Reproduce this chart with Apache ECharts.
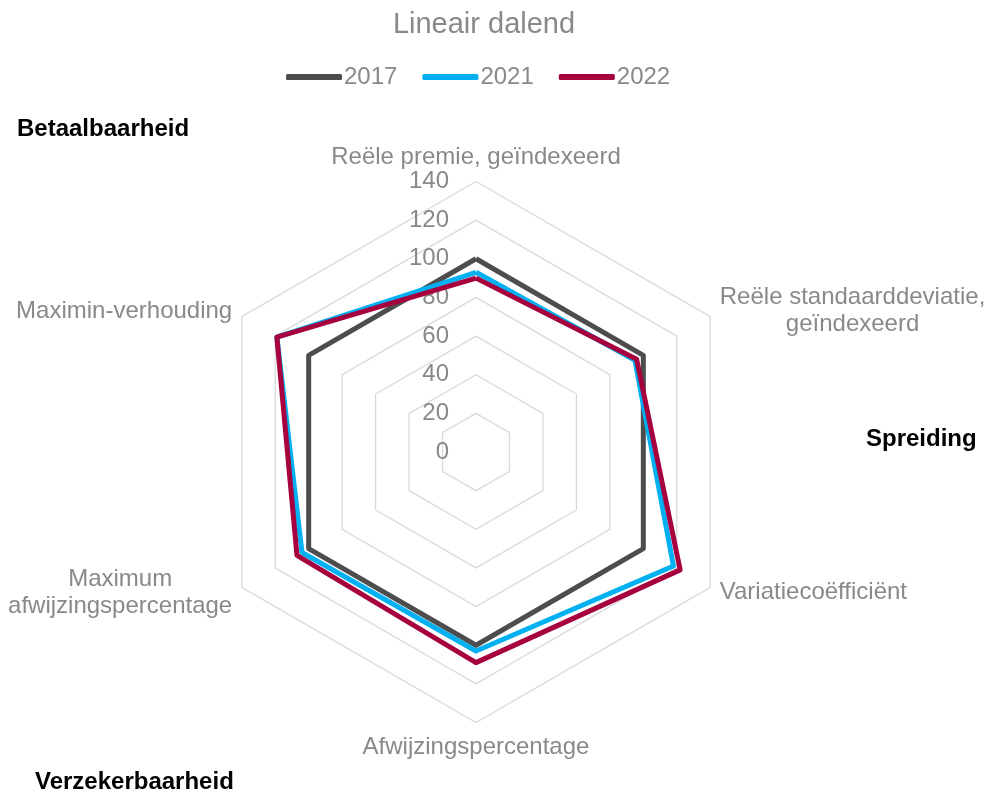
<!DOCTYPE html>
<html>
<head>
<meta charset="utf-8">
<script src="https://cdn.jsdelivr.net/npm/echarts@6/dist/echarts.min.js"></script>
<style>
  html, body { margin: 0; padding: 0; background: #fff; }
  #chart { width: 988px; height: 796px; }
</style>
</head>
<body>
<div id="chart"></div>
<script>
// indicators, counterclockwise from the top
const indicators = [
  'Reële premie, geïndexeerd',
  'Maximin-verhouding',
  'Maximum\nafwijzingspercentage',
  'Afwijzingspercentage',
  'Variatiecoëfficiënt',
  'Reële standaarddeviatie,\ngeïndexeerd'
]
const years = ['2017', '2021', '2022']
const values2017 = [100, 100, 100, 100, 100, 100]
const values2021 = [93, 119, 104, 103, 118, 95]
const values2022 = [90, 119, 107, 109, 122, 96]
const groupLabels = ['Betaalbaarheid', 'Spreiding', 'Verzekerbaarheid']

const colors = ['#4d4d4d', '#00b0f0', '#a6003e']
const grey = '#898989'
const font = "'Liberation Sans', Arial, sans-serif"

const chart = echarts.init(document.getElementById('chart'))

const tickLabel = {
  show: true,
  color: grey,
  fontSize: 24,
  fontFamily: font,
  margin: 27
}

chart.setOption({
  color: colors,
  title: {
    text: 'Lineair dalend',
    left: 479,
    textAlign: 'center',
    top: 5,
    textStyle: { color: grey, fontSize: 29, fontWeight: 'normal', fontFamily: font }
  },
  legend: {
    data: years,
    left: 281,
    top: 60,
    icon: 'roundRect',
    itemWidth: 56,
    itemHeight: 6,
    itemGap: 25,
    textStyle: { color: grey, fontSize: 24, fontFamily: font, padding: [0, 0, 0, -3] }
  },
  radar: {
    center: [476, 452],
    radius: 270.5,
    startAngle: 90,
    splitNumber: 7,
    shape: 'polygon',
    nameGap: 11,
    axisName: {
      color: grey,
      fontSize: 24,
      fontFamily: font,
      formatter: (name) => name.split('\n').map(s => '{c|' + s + '}').join('\n'),
      rich: {
        c: { align: 'center', color: grey, fontSize: 24, fontFamily: font, lineHeight: 27 }
      }
    },
    splitLine: { lineStyle: { color: '#d9d9d9', width: 1.3 } },
    splitArea: { show: false },
    axisLine: { show: false },
    axisTick: { show: false },
    axisLabel: { show: false },
    indicator: indicators.map((name, i) => {
      const ind = { name: name, min: 0, max: 140, interval: 20 }
      if (i === 0) ind.axisLabel = tickLabel
      return ind
    })
  },
  series: [{
    type: 'radar',
    symbol: 'none',
    data: [
      { name: years[0], value: values2017, lineStyle: { color: colors[0], width: 5 }, itemStyle: { color: colors[0] } },
      { name: years[1], value: values2021, lineStyle: { color: colors[1], width: 5 }, itemStyle: { color: colors[1] } },
      { name: years[2], value: values2022, lineStyle: { color: colors[2], width: 5 }, itemStyle: { color: colors[2] } }
    ]
  }],
  graphic: [
    { type: 'text', left: 17, top: 117, style: { text: groupLabels[0], fontSize: 24, fontWeight: 'bold', fontFamily: font, fill: '#000' } },
    { type: 'text', left: 866, top: 427, style: { text: groupLabels[1], fontSize: 24, fontWeight: 'bold', fontFamily: font, fill: '#000' } },
    { type: 'text', left: 35, top: 770, style: { text: groupLabels[2], fontSize: 24, fontWeight: 'bold', fontFamily: font, fill: '#000' } }
  ]
})
</script>
</body>
</html>
